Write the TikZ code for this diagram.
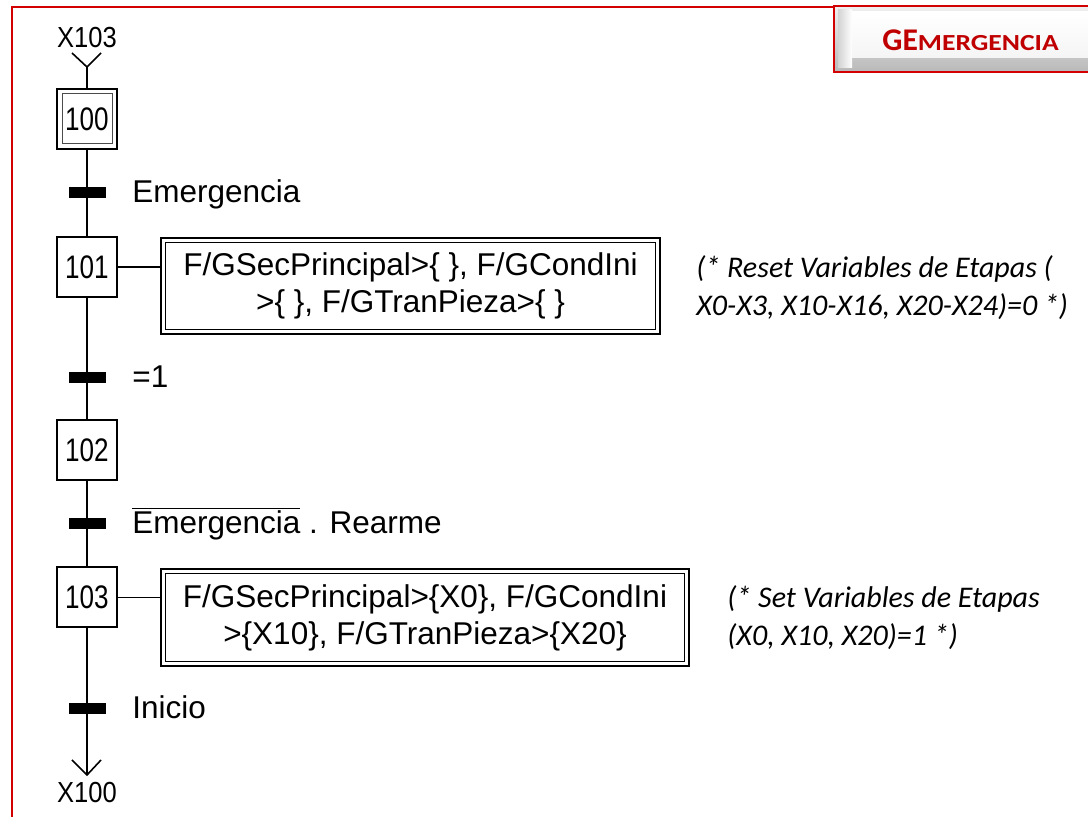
\documentclass[tikz,border=0pt]{standalone}
\usepackage{fontspec}
\setmainfont{Liberation Sans}
\newfontfamily\stepfont[FakeStretch=0.8]{Liberation Sans}
\newfontfamily\reffont[FakeStretch=0.88]{Liberation Sans}
\newfontfamily\notefont{Carlito}
\definecolor{framered}{RGB}{210,0,0}
\definecolor{titlered}{RGB}{192,0,0}

\begin{document}
\begin{tikzpicture}[x=0.5pt,y=-0.5pt,
  stepbox/.style={draw, line width=1pt, fill=white, minimum width=30pt,
    minimum height=30pt, inner sep=0pt, font=\stepfont\fontsize{16.3}{18}\selectfont},
  trbar/.style={fill=black, minimum width=18.5pt, minimum height=5.5pt, inner sep=0pt},
  trlabel/.style={anchor=base west, inner sep=0pt, font=\fontsize{15.75}{18}\selectfont},
  reflabel/.style={inner sep=0pt, font=\reffont\fontsize{14.5}{17}\selectfont},
  actbox/.style={draw, line width=1pt, anchor=north west, inner sep=0pt,
    align=center, font=\fontsize{15.75}{18.5}\selectfont},
  note/.style={anchor=west, align=left, inner sep=0pt,
    font=\notefont\itshape\fontsize{15}{19}\selectfont},
  link/.style={line width=0.9pt},
  tip/.style={line width=0.8pt},
]
\useasboundingbox (0,0) rectangle (1088,817);

% sheet frame
\draw[framered, line width=1.3pt] (12,830) -- (12,7) -- (834,7);

% title plate
\shade[top color=gray!12, bottom color=gray!55] (834,6) rectangle (1100,72);
\shade[left color=gray!35, right color=white] (838,10) rectangle (852,68);
\shade[top color=white, bottom color=gray!8] (852,12) rectangle (1100,58);
\draw[framered, line width=1.4pt] (834,6) rectangle (1100,72);
\node[anchor=base west, inner sep=0pt, text=titlered] (title) at (882,51)
  {\notefont\bfseries\fontsize{15.8}{18}\selectfont GE\addfontfeature{FakeStretch=1.2}\fontsize{11.5}{14}\selectfont MERGENCIA};

% steps
\node[stepbox] (s100) at (87,119) {100};
\draw[line width=0.5pt, black!70] ([shift={(6,6)}]s100.north west) rectangle ([shift={(-6,-6)}]s100.south east);
\node[stepbox] (s101) at (87,267) {101};
\node[stepbox] (s102) at (87,450.5) {102};
\node[stepbox] (s103) at (87,597.5) {103};

% entry and exit references
\node[reflabel] (x103) at (87,38) {X103};
\coordinate (intop) at (87,67);
\coordinate (inl) at (72,53);
\coordinate (inr) at (101,53);
\node[reflabel] (x100) at (87,793) {X100};
\coordinate (outbot) at (87,775);
\coordinate (outl) at (72,760);
\coordinate (outr) at (101,760);

\draw[tip] (inl) -- (intop) -- (inr);
\draw[tip] (outl) -- (outbot) -- (outr);

% vertical links
\draw[link] (intop) -- (s100.north);
\draw[link] (s100.south) -- (s101.north);
\draw[link] (s101.south) -- (s102.north);
\draw[link] (s102.south) -- (s103.north);
\draw[link] (s103.south) -- (outbot);

% transitions
\node[trbar] (t1) at (87,193) {};
\node[trbar] (t2) at (87,377.5) {};
\node[trbar] (t3) at (87,523.5) {};
\node[trbar] (t4) at (87,708.5) {};
\node[trlabel] (l1) at (132,203) {Emergencia};
\node[trlabel] (l2) at (132,387.5) {=1};
\node[trlabel] (l3) at (132,534) {$\overline{\hbox{Emergencia}}$ . Rearme};
\node[trlabel] (l4) at (132,718.5) {Inicio};

% actions
\node[actbox, minimum width=249.5pt, minimum height=48pt] (a101) at (160,237)
  {F/GSecPrincipal>\{ \}, F/GCondIni\\>\{ \}, F/GTranPieza>\{ \}};
\draw[line width=0.5pt] ([shift={(5.5,5.5)}]a101.north west) rectangle ([shift={(-5.5,-5.5)}]a101.south east);
\node[actbox, minimum width=264pt, minimum height=48.5pt] (a103) at (160,568)
  {F/GSecPrincipal>\{X0\}, F/GCondIni\\>\{X10\}, F/GTranPieza>\{X20\}};
\draw[line width=0.5pt] ([shift={(5.5,5.5)}]a103.north west) rectangle ([shift={(-5.5,-5.5)}]a103.south east);
\draw[link] (s101.east) -- (s101.east -| a101.west);
\draw[link] (s103.east) -- (s103.east -| a103.west);

% comments
\node[note] (c101) at (696,288) {(* Reset Variables de Etapas (\\X0-X3, X10-X16, X20-X24)=0 *)};
\node[note] (c103) at (727,618) {(* Set Variables de Etapas\\(X0, X10, X20)=1 *)};
\end{tikzpicture}
\end{document}
